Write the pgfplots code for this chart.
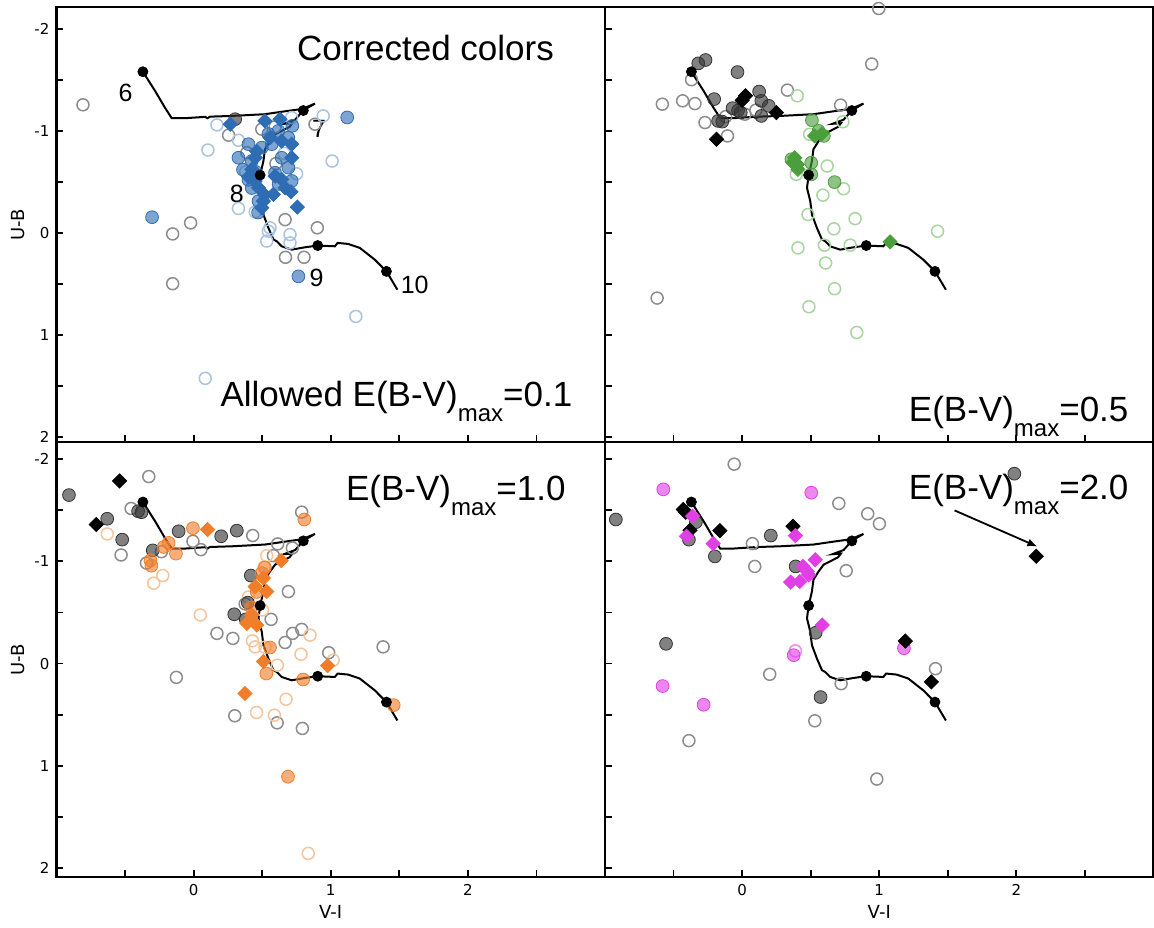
\documentclass[border=0pt]{standalone}
\usepackage{pgfplots}
\pgfplotsset{compat=1.18}
\usepackage{pgfplotstable}
\usepackage{fontspec}
\setmainfont{Liberation Sans}
\newfontfamily\dejavu{DejaVu Sans}
\usetikzlibrary{arrows.meta}

\definecolor{cblue}{HTML}{2E6DB4}
\definecolor{cbluel}{HTML}{A9C3E0}
\definecolor{cgreen}{HTML}{4A9E3C}
\definecolor{cgreenl}{HTML}{A8D5A0}
\definecolor{corange}{HTML}{F07D2A}
\definecolor{corangel}{HTML}{F6C49C}
\definecolor{cmag}{HTML}{E23EE6}
\definecolor{cmagl}{HTML}{F08AF2}
\definecolor{cgrey}{HTML}{333333}
\definecolor{cgreyo}{HTML}{8C8C8C}

% evolutionary track (log age 6 -> 10)
\pgfplotstableread{
x y
-0.37 -1.58
-0.28 -1.39
-0.21 -1.23
-0.16 -1.125
-0.06 -1.125
0.085 -1.138
0.10 -1.125
0.12 -1.14
0.28 -1.147
0.52 -1.164
0.69 -1.197
0.79 -1.215
0.885 -1.268
0.83 -1.225
0.78 -1.17
0.74 -1.11
0.70 -1.09
0.66 -1.07
0.72 -1.075
0.70 -1.04
0.667 -1.017
0.594 -0.967
0.557 -0.90
0.52 -0.82
0.509 -0.705
0.485 -0.567
0.473 -0.442
0.497 -0.31
0.509 -0.18
0.545 -0.05
0.582 0.065
0.606 0.082
0.642 0.131
0.715 0.164
0.812 0.141
0.905 0.124
1.03 0.131
1.05 0.098
1.127 0.108
1.212 0.147
1.321 0.262
1.406 0.377
1.486 0.557
}\track
\pgfplotstableread{
x y
-0.37 -1.58
0.80 -1.20
0.485 -0.567
0.905 0.124
1.406 0.377
}\agepts

\pgfplotsset{
  panel/.style={
    scale only axis, width=274.25pt, height=217.5pt,
    anchor=south west,
    xmin=-1, xmax=3, y dir=reverse,
    xtick={-0.5,0,0.5,1,1.5,2,2.5},
    ytick={-2,-1.5,-1,-0.5,0,0.5,1,1.5,2},
    xticklabels={}, yticklabels={},
    tick align=inside, xtick pos=left, ytick pos=left,
    major tick length=3.5pt,
    tick style={black, line width=0.9pt},
    axis line style={black, line width=1.3pt},
    ticklabel style={font=\dejavu\fontsize{7.5}{9}\selectfont},
    label style={font=\dejavu\fontsize{9}{11}\selectfont},
    xlabel style={at={(axis description cs:0.5,0)}, anchor=center, yshift=-17.5pt},
    ylabel style={at={(axis description cs:0,0.5)}, anchor=center, yshift=19.25pt},
  },
  opn/.style={only marks, mark=o, color=#1, mark size=3pt, mark options={line width=0.75pt}},
  fil/.style={only marks, mark=*, color=#1, mark size=3.2pt, mark options={draw=none, fill opacity=0.62}},
  dia/.style={only marks, mark=square*, color=#1, mark size=2.5pt, mark options={rotate=45, draw=none}},
}
\newcommand{\modeltrack}{%
  \addplot[black, line width=1pt, no marks] table {\track};
  \addplot[only marks, mark=*, mark size=2.5pt, black] table {\agepts};
}
\newcommand{\bigtxt}{\fontsize{17.5}{20}\selectfont}
\newcommand{\ebv}[1]{E(B-V)\raisebox{-7.5pt}{\fontsize{12}{12}\selectfont max}=#1}

\begin{document}
\begin{tikzpicture}
\path[use as bounding box] (0,0) rectangle (577pt,463.5pt);

% ---------------- top left: E(B-V)max = 0.1 ----------------
\begin{axis}[panel, at={(28.25pt,242.5pt)}, ymin=-2.215, ymax=2.05,
  yticklabels={-2,,-1,,0,,1,,2}, ylabel={U-B}]
\addplot[opn=cgreyo] coordinates {(-0.807,-1.256) (0.255,-0.958) (0.497,-1.017) (0.594,-1.04)
  (0.388,-0.787) (0.60,-0.68) (-0.022,-0.098) (-0.153,0.01) (0.667,-0.13) (0.902,-0.05)
  (0.67,0.239) (0.805,0.239) (-0.153,0.498) (0.885,-1.066)};
\addplot[opn=cbluel] coordinates {(0.17,-1.059) (0.104,-0.813) (0.327,-0.908) (0.327,-0.24)
  (0.449,-0.206) (0.751,-0.58) (0.715,-1.131) (0.945,-1.147) (0.545,-0.017) (0.703,0.016)
  (0.533,0.08) (0.703,0.098) (0.557,-0.05) (0.085,1.426) (1.183,0.819) (1.01,-0.705)
  (0.38,-0.60) (0.66,-0.78)};
\addplot[fil=cgrey] coordinates {(0.303,-1.115)};
\addplot[fil=cblue] coordinates {(-0.303,-0.154) (0.764,0.426) (1.12,-1.132) (0.40,-0.87)
  (0.327,-0.737) (0.424,-0.705) (0.497,-0.836) (0.57,-0.87) (0.642,-0.737) (0.594,-0.59)
  (0.691,-0.64) (0.715,-0.51) (0.424,-0.44) (0.473,-0.312) (0.69,-0.934) (0.618,-1.0)
  (0.545,-0.97) (0.45,-0.60) (0.40,-0.52) (0.36,-0.62) (0.47,-0.20) (0.62,-0.48) (0.72,-1.05)};
\addplot[dia=cblue] coordinates {(0.267,-1.066) (0.52,-1.098) (0.63,-1.115) (0.715,-0.87)
  (0.642,-0.90) (0.715,-0.737) (0.642,-0.525) (0.594,-0.557) (0.667,-0.442) (0.71,-0.403)
  (0.582,-0.378) (0.756,-0.253) (0.449,-0.508) (0.424,-0.623) (0.473,-0.442) (0.509,-0.312)
  (0.52,-0.37) (0.497,-0.246) (0.557,-0.934) (0.449,-0.737) (0.40,-0.55) (0.46,-0.80)};
\modeltrack
\node[anchor=base, inner sep=0pt, font=\bigtxt] at (axis cs:1.691,-1.688) {Corrected colors};
\node[anchor=base east, inner sep=0pt, font=\bigtxt] at (axis cs:2.764,1.704) {Allowed \ebv{0.1}};
\begin{scope}[every node/.style={font=\fontsize{12.5}{14}\selectfont, inner sep=0pt}]
\node at (axis cs:-0.497,-1.377) {6};
\node at (axis cs:0.914,-1.017) {7};
\node at (axis cs:0.315,-0.384) {8};
\node at (axis cs:0.897,0.442) {9};
\node at (axis cs:1.612,0.507) {10};
\end{scope}
\end{axis}

% ---------------- top right: E(B-V)max = 0.5 ----------------
\begin{axis}[panel, at={(302.5pt,242.5pt)}, ymin=-2.215, ymax=2.05]
\addplot[opn=cgreyo] coordinates {(-0.582,-1.262) (-0.434,-1.295) (-0.344,-1.268) (-0.369,-1.502)
  (-0.271,-1.082) (-0.107,-0.951) (0.10,-1.203) (0.33,-1.40) (0.945,-1.656) (0.718,-1.253)
  (0.996,-2.2) (-0.12,-1.14) (0.02,-1.164) (-0.62,0.639)};
\addplot[opn=cgreenl] coordinates {(0.402,-1.344) (0.735,-1.09) (0.492,-0.967) (0.62,-0.656)
  (0.74,-0.433) (0.589,-0.37) (0.48,-0.18) (0.824,-0.14) (0.669,-0.04) (0.407,0.147)
  (0.788,0.12) (0.395,-0.574) (0.609,0.295) (0.674,0.547) (0.487,0.724) (0.836,0.976)
  (0.6,0.12) (1.425,-0.017)};
\addplot[fil=cgrey] coordinates {(-0.32,-1.662) (-0.267,-1.695) (-0.034,-1.577) (-0.204,-1.312)
  (-0.07,-1.223) (-0.01,-1.18) (0.124,-1.386) (0.14,-1.295) (0.194,-1.246) (0.14,-1.147)
  (-0.175,-1.098) (-0.145,-1.091) (-0.03,-1.20)};
\addplot[fil=cgreen] coordinates {(0.509,-1.105) (0.558,-1.0) (0.596,-0.951) (0.674,-0.498)
  (0.504,-0.574) (0.504,-0.688) (0.359,-0.722)};
\addplot[dia=cgreen] coordinates {(0.529,-0.951) (0.58,-0.97) (0.383,-0.737) (0.402,-0.672)
  (0.37,-0.69) (0.407,-0.623) (1.079,0.088)};
\addplot[dia=black] coordinates {(0.0,-1.30) (0.025,-1.345) (0.25,-1.18) (-0.187,-0.918)};
\modeltrack
\node[anchor=base east, inner sep=0pt, font=\bigtxt] at (axis cs:2.82,1.85) {\ebv{0.5}};
\end{axis}

% ---------------- bottom left: E(B-V)max = 1.0 ----------------
\begin{axis}[panel, at={(28.25pt,25pt)}, ymin=-2.167, ymax=2.088,
  xticklabels={,0,,1,,2,}, yticklabels={-2,,-1,,0,,1,,2},
  xlabel={V-I}, ylabel={U-B}]
\addplot[opn=cgreyo] coordinates {(-0.327,-1.829) (-0.456,-1.517) (-0.529,-1.062) (-0.235,-1.094)
  (-0.005,-1.196) (0.053,-1.114) (0.431,-1.252) (0.788,-1.481) (0.613,-1.17) (0.582,-1.055)
  (0.72,-1.131) (0.691,-0.704) (0.565,-0.432) (0.376,-0.583) (0.17,-0.295) (0.286,-0.246)
  (0.667,-0.206) (0.722,-0.295) (0.788,-0.334) (0.985,-0.106) (-0.126,0.135) (1.382,-0.163)
  (-0.344,-0.983) (0.30,0.511) (0.609,0.58) (0.793,0.635)};
\addplot[opn=corangel] coordinates {(-0.63,-1.268) (-0.291,-0.786) (-0.225,-0.861) (0.049,-0.475)
  (0.533,-1.055) (0.514,-0.944) (0.502,-0.524) (0.429,-0.222) (0.449,-0.163) (0.52,-0.16)
  (0.783,-0.091) (0.849,-0.278) (0.40,-0.65) (1.018,-0.033) (0.61,0.016) (0.674,0.349)
  (0.459,0.479) (0.589,0.505) (0.836,1.857)};
\addplot[fil=cgrey] coordinates {(-0.909,-1.648) (-0.63,-1.416) (-0.521,-1.212) (-0.405,-1.49)
  (-0.38,-1.48) (-0.298,-1.107) (-0.109,-1.294) (0.201,-1.245) (0.315,-1.30) (0.417,-0.861)
  (0.395,-0.596) (0.296,-0.482) (0.38,-0.432)};
\addplot[fil=corange] coordinates {(-0.005,-1.324) (0.807,-1.409) (-0.182,-1.18) (-0.218,-1.14)
  (-0.129,-1.075) (-0.315,-1.009) (-0.308,-0.957) (0.497,-0.885) (0.52,-0.94) (0.557,-0.157)
  (0.53,0.098) (0.799,0.156) (1.459,0.407) (0.688,1.107) (0.46,-0.70) (0.42,-0.55)};
\addplot[dia=corange] coordinates {(0.102,-1.311) (0.638,-1.006) (0.449,-0.753) (0.533,-0.704)
  (0.509,-0.836) (0.424,-0.475) (0.388,-0.393) (0.461,-0.377) (0.51,-0.02) (0.977,0.02)
  (0.374,0.293)};
\addplot[dia=black] coordinates {(-0.54,-1.786) (-0.71,-1.36)};
\modeltrack
\node[anchor=base east, inner sep=0pt, font=\bigtxt] at (axis cs:2.715,-1.599) {\ebv{1.0}};
\end{axis}

% ---------------- bottom right: E(B-V)max = 2.0 ----------------
\begin{axis}[panel, at={(302.5pt,25pt)}, ymin=-2.167, ymax=2.088,
  xticklabels={,0,,1,,2,}, xlabel={V-I}]
\addplot[opn=cgreyo] coordinates {(-0.058,-1.95) (0.705,-1.566) (0.916,-1.465) (1.001,-1.367)
  (0.075,-1.173) (0.092,-0.95) (0.759,-0.908) (0.201,0.105) (0.722,0.197) (-0.388,0.754)
  (0.982,1.13) (1.41,0.05) (0.53,0.56)};
\addplot[opn=cmagl] coordinates {(0.388,-0.124)};
\addplot[fil=cgrey] coordinates {(-0.921,-1.409) (-0.337,-1.383) (-0.388,-1.212) (-0.199,-1.048)
  (0.209,-1.252) (0.39,-0.95) (0.536,-0.301) (-0.555,-0.193) (0.572,0.328) (1.985,-1.857)};
\addplot[fil=cmag] coordinates {(-0.575,-1.704) (0.504,-1.671) (-0.58,0.22) (-0.281,0.403)
  (0.376,-0.082) (1.18,-0.15)};
\addplot[dia=black] coordinates {(-0.429,-1.507) (-0.412,-1.48) (-0.38,-1.304) (-0.162,-1.30)
  (0.371,-1.343) (1.19,-0.22) (2.145,-1.05) (1.38,0.18)};
\addplot[dia=cmag] coordinates {(-0.361,-1.441) (-0.405,-1.245) (-0.211,-1.173) (0.388,-1.252)
  (0.533,-1.016) (0.475,-0.901) (0.444,-0.95) (0.42,-0.802) (0.354,-0.796) (0.485,-0.868)
  (0.584,-0.377)};
\modeltrack
\draw[-{Latex[length=5pt,width=4pt]}, line width=0.9pt] (axis cs:1.549,-1.498) -- (axis cs:2.153,-1.144);
\node[anchor=base east, inner sep=0pt, font=\bigtxt] at (axis cs:2.82,-1.606) {\ebv{2.0}};
\end{axis}
\end{tikzpicture}
\end{document}
